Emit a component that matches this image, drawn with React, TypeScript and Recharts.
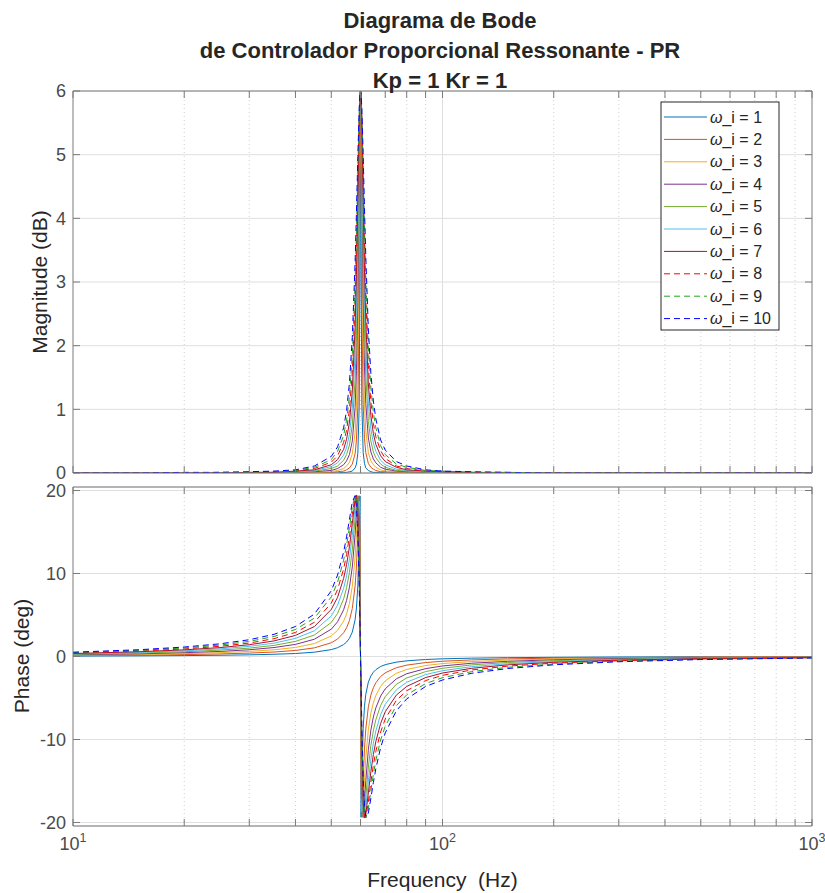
import { LineChart, Line, XAxis, YAxis, CartesianGrid, ReferenceLine } from "recharts";

// frequency grid (Hz), shared by all series
const freqs = [
  10, 15, 20, 25, 30, 35, 40, 45, 50, 52, 54, 55, 56, 57, 58, 58.5, 59, 59.5, 59.8, 60,
  60.2, 60.5, 61, 61.5, 62, 63, 64, 65, 66, 68, 70, 75, 80, 90, 100, 120, 150, 200, 300, 500, 1000,
];

// magnitude (dB), one array per omega_i
const magW1 = [0, 0, 0, 0, 0, 0, 0, 0, 0, 0, 0.01, 0.01, 0.02, 0.03, 0.08, 0.14, 0.31, 1.05, 3.35, 6.02, 3.36, 1.07, 0.32, 0.15, 0.08, 0.04, 0.02, 0.01, 0.01, 0.01, 0, 0, 0, 0, 0, 0, 0, 0, 0, 0, 0];
const magW2 = [0, 0, 0, 0, 0, 0, 0, 0, 0.01, 0.02, 0.03, 0.05, 0.08, 0.14, 0.3, 0.52, 1.04, 2.7, 4.98, 6.02, 4.99, 2.72, 1.07, 0.54, 0.32, 0.15, 0.09, 0.06, 0.04, 0.02, 0.02, 0.01, 0, 0, 0, 0, 0, 0, 0, 0, 0];
const magW3 = [0, 0, 0, 0, 0, 0, 0, 0.01, 0.02, 0.04, 0.07, 0.11, 0.17, 0.3, 0.63, 1.04, 1.9, 3.85, 5.5, 6.02, 5.51, 3.87, 1.94, 1.08, 0.67, 0.32, 0.19, 0.13, 0.09, 0.05, 0.03, 0.02, 0.01, 0, 0, 0, 0, 0, 0, 0, 0];
const magW4 = [0, 0, 0, 0, 0, 0, 0.01, 0.02, 0.04, 0.07, 0.13, 0.19, 0.29, 0.5, 1.03, 1.61, 2.68, 4.55, 5.72, 6.02, 5.72, 4.57, 2.73, 1.67, 1.09, 0.55, 0.33, 0.22, 0.16, 0.09, 0.06, 0.03, 0.02, 0.01, 0.01, 0, 0, 0, 0, 0, 0];
const magW5 = [0, 0, 0, 0, 0, 0.01, 0.01, 0.03, 0.07, 0.11, 0.2, 0.29, 0.44, 0.75, 1.46, 2.16, 3.33, 4.98, 5.82, 6.02, 5.82, 4.99, 3.37, 2.23, 1.53, 0.81, 0.5, 0.33, 0.24, 0.14, 0.09, 0.04, 0.03, 0.01, 0.01, 0, 0, 0, 0, 0, 0];
const magW6 = [0, 0, 0, 0, 0.01, 0.01, 0.02, 0.04, 0.1, 0.16, 0.28, 0.4, 0.61, 1.01, 1.88, 2.67, 3.84, 5.25, 5.88, 6.02, 5.88, 5.26, 3.88, 2.74, 1.96, 1.1, 0.69, 0.47, 0.34, 0.2, 0.13, 0.06, 0.04, 0.02, 0.01, 0.01, 0, 0, 0, 0, 0];
const magW7 = [0, 0, 0, 0, 0.01, 0.01, 0.03, 0.05, 0.13, 0.21, 0.37, 0.53, 0.8, 1.29, 2.28, 3.12, 4.23, 5.43, 5.92, 6.02, 5.92, 5.44, 4.27, 3.19, 2.38, 1.4, 0.9, 0.62, 0.45, 0.27, 0.18, 0.09, 0.05, 0.03, 0.02, 0.01, 0, 0, 0, 0, 0];
const magW8 = [0, 0, 0, 0.01, 0.01, 0.02, 0.03, 0.07, 0.17, 0.27, 0.48, 0.67, 1.0, 1.58, 2.66, 3.5, 4.54, 5.56, 5.94, 6.02, 5.94, 5.57, 4.57, 3.57, 2.75, 1.69, 1.11, 0.78, 0.57, 0.35, 0.23, 0.11, 0.07, 0.03, 0.02, 0.01, 0.01, 0, 0, 0, 0];
const magW9 = [0, 0, 0, 0.01, 0.01, 0.02, 0.04, 0.09, 0.21, 0.34, 0.59, 0.83, 1.21, 1.86, 3.0, 3.82, 4.78, 5.65, 5.96, 6.02, 5.96, 5.65, 4.81, 3.89, 3.09, 1.98, 1.34, 0.95, 0.71, 0.43, 0.29, 0.14, 0.09, 0.04, 0.03, 0.01, 0.01, 0, 0, 0, 0];
const magW10 = [0, 0, 0.01, 0.01, 0.02, 0.03, 0.05, 0.11, 0.26, 0.41, 0.71, 0.98, 1.42, 2.13, 3.3, 4.1, 4.97, 5.72, 5.97, 6.02, 5.97, 5.72, 5.0, 4.16, 3.4, 2.26, 1.56, 1.13, 0.85, 0.52, 0.36, 0.18, 0.11, 0.05, 0.03, 0.02, 0.01, 0, 0, 0, 0];

// phase (deg)
const phaseW1 = [0.05, 0.08, 0.11, 0.15, 0.2, 0.27, 0.36, 0.52, 0.83, 1.06, 1.44, 1.74, 2.19, 2.94, 4.42, 5.85, 8.55, 14.79, 19.35, 0, -19.34, -14.86, -8.68, -5.99, -4.56, -3.09, -2.34, -1.89, -1.59, -1.21, -0.98, -0.68, -0.52, -0.36, -0.28, -0.2, -0.14, -0.1, -0.06, -0.04, -0.02];
const phaseW2 = [0.1, 0.16, 0.23, 0.31, 0.41, 0.54, 0.73, 1.04, 1.65, 2.11, 2.86, 3.46, 4.34, 5.78, 8.48, 10.9, 14.75, 19.36, 14.72, 0, -14.69, -19.38, -14.9, -11.13, -8.74, -6.06, -4.63, -3.76, -3.16, -2.41, -1.96, -1.35, -1.04, -0.73, -0.57, -0.41, -0.29, -0.2, -0.13, -0.07, -0.04];
const phaseW3 = [0.16, 0.24, 0.34, 0.46, 0.61, 0.81, 1.09, 1.56, 2.48, 3.15, 4.26, 5.13, 6.41, 8.42, 11.94, 14.71, 18.1, 18.71, 10.91, 0, -10.88, -18.66, -18.21, -14.94, -12.25, -8.8, -6.82, -5.56, -4.7, -3.6, -2.93, -2.02, -1.56, -1.09, -0.85, -0.61, -0.43, -0.3, -0.19, -0.11, -0.05];
const phaseW4 = [0.21, 0.32, 0.46, 0.61, 0.81, 1.08, 1.46, 2.08, 3.29, 4.18, 5.63, 6.75, 8.35, 10.78, 14.66, 17.23, 19.36, 16.74, 8.53, 0, -8.5, -16.67, -19.39, -17.42, -14.98, -11.23, -8.86, -7.29, -6.19, -4.77, -3.89, -2.69, -2.08, -1.46, -1.14, -0.81, -0.58, -0.4, -0.25, -0.15, -0.07];
const phaseW5 = [0.26, 0.41, 0.57, 0.77, 1.01, 1.34, 1.82, 2.59, 4.1, 5.19, 6.94, 8.28, 10.14, 12.84, 16.67, 18.69, 19.36, 14.74, 6.96, 0, -6.93, -14.66, -19.33, -18.81, -16.95, -13.32, -10.72, -8.92, -7.62, -5.9, -4.83, -3.35, -2.59, -1.82, -1.42, -1.01, -0.72, -0.5, -0.32, -0.19, -0.09];
const phaseW6 = [0.31, 0.49, 0.68, 0.92, 1.22, 1.61, 2.18, 3.1, 4.89, 6.18, 8.21, 9.72, 11.77, 14.58, 18.05, 19.35, 18.73, 13.01, 5.86, 0, -5.84, -12.93, -18.64, -19.39, -18.26, -15.05, -12.39, -10.43, -8.98, -7.01, -5.75, -4.01, -3.1, -2.18, -1.71, -1.22, -0.87, -0.6, -0.38, -0.22, -0.11];
const phaseW7 = [0.36, 0.57, 0.8, 1.07, 1.42, 1.88, 2.54, 3.61, 5.67, 7.13, 9.41, 11.06, 13.22, 16.0, 18.87, 19.46, 17.8, 11.56, 5.06, 0, -5.04, -11.49, -17.68, -19.44, -19.03, -16.44, -13.86, -11.82, -10.25, -8.07, -6.65, -4.65, -3.61, -2.54, -1.99, -1.42, -1.01, -0.7, -0.44, -0.26, -0.13];
const phaseW8 = [0.42, 0.65, 0.91, 1.23, 1.62, 2.15, 2.9, 4.12, 6.43, 8.06, 10.54, 12.28, 14.49, 17.13, 19.34, 19.21, 16.78, 10.37, 4.44, 0, -4.43, -10.3, -16.64, -19.13, -19.4, -17.51, -15.12, -13.08, -11.44, -9.09, -7.53, -5.29, -4.12, -2.9, -2.27, -1.62, -1.16, -0.8, -0.51, -0.3, -0.15];
const phaseW9 = [0.47, 0.73, 1.03, 1.38, 1.82, 2.41, 3.26, 4.62, 7.18, 8.95, 11.6, 13.4, 15.59, 17.99, 19.47, 18.75, 15.75, 9.38, 3.96, 0, -3.95, -9.31, -15.6, -18.62, -19.46, -18.31, -16.19, -14.2, -12.53, -10.06, -8.38, -5.92, -4.62, -3.26, -2.55, -1.82, -1.3, -0.9, -0.57, -0.33, -0.16];
const phaseW10 = [0.52, 0.81, 1.14, 1.53, 2.02, 2.67, 3.61, 5.11, 7.91, 9.81, 12.58, 14.41, 16.52, 18.62, 19.38, 18.15, 14.78, 8.55, 3.57, 0, -3.56, -8.48, -14.62, -17.99, -19.31, -18.86, -17.07, -15.19, -13.53, -10.98, -9.2, -6.54, -5.11, -3.61, -2.83, -2.02, -1.45, -1.0, -0.63, -0.37, -0.18];

const wiValues = [1, 2, 3, 4, 5, 6, 7, 8, 9, 10];
const seriesColors = ["#0072BD", "#D95319", "#EDB120", "#7E2F8E", "#77AC30", "#4DBEEE", "#A2142F", "#FF0000", "#1FA51F", "#0000FF"];

const xTicks = [10, 20, 30, 40, 50, 60, 70, 80, 90, 100, 200, 300, 400, 500, 600, 700, 800, 900, 1000];
const decadeExp: Record<number, string> = { 10: "1", 100: "2", 1000: "3" };
const minorGrid = [20, 30, 40, 50, 60, 70, 80, 90, 200, 300, 400, 500, 600, 700, 800, 900];
const magTicks = [0, 1, 2, 3, 4, 5, 6];
const phaseTicks = [-20, -10, 0, 10, 20];

const FONT = "'Liberation Sans', Arial, Helvetica, sans-serif";
const AXIS = "#7a7a7a";
const TICK_TEXT = "#4a4a4a";
const LABEL = "#262626";
const GRID = "#dfdfdf";
const MINOR = "#cfcfcf";

const magSeries = [magW1, magW2, magW3, magW4, magW5, magW6, magW7, magW8, magW9, magW10];
const phaseSeries = [phaseW1, phaseW2, phaseW3, phaseW4, phaseW5, phaseW6, phaseW7, phaseW8, phaseW9, phaseW10];

function toRows(series: number[][]) {
  return freqs.map((f, i) => {
    const row: Record<string, number> = { f };
    series.forEach((s, j) => {
      row[`w${j + 1}`] = s[i];
    });
    return row;
  });
}

const magRows = toRows(magSeries);
const phaseRows = toRows(phaseSeries);

const tickStyle = { fill: TICK_TEXT, fontSize: 18, fontFamily: FONT };
const noLabel = () => "";

// "10" with a raised exponent, only on the decades
function DecadeTick(props: any) {
  const { x, y, payload } = props;
  const exp = decadeExp[payload.value];
  if (!exp) return null;
  return (
    <text x={x} y={y} dy={14} textAnchor="middle" fill={TICK_TEXT} fontSize={18} fontFamily={FONT}>
      10
      <tspan dy={-8} fontSize={12.5}>
        {exp}
      </tspan>
    </text>
  );
}

// axes need a size > 0 or recharts skips them; negative tickSize points the marks inward
function Plot({ rows, top, bottom, domain, ticks, labels }: any) {
  return (
    <LineChart width={825} height={893} data={rows} margin={{ top: top - 1, right: 12, bottom: 893 - bottom - 1, left: 0 }}>
      <CartesianGrid vertical={false} stroke={GRID} />
      {minorGrid.map((f) => (
        <ReferenceLine key={f} x={f} stroke={MINOR} strokeDasharray="1 3" />
      ))}
      <ReferenceLine x={100} stroke={GRID} />
      <XAxis
        dataKey="f"
        type="number"
        scale="log"
        domain={[10, 1000]}
        allowDataOverflow
        ticks={xTicks}
        interval={0}
        height={1}
        tickSize={-7}
        tickMargin={17}
        tickLine={{ stroke: AXIS }}
        axisLine={{ stroke: AXIS }}
        tick={labels ? <DecadeTick /> : tickStyle}
        tickFormatter={labels ? undefined : noLabel}
      />
      <XAxis
        xAxisId="top"
        orientation="top"
        dataKey="f"
        type="number"
        scale="log"
        domain={[10, 1000]}
        allowDataOverflow
        ticks={xTicks}
        interval={0}
        height={1}
        tickSize={-7}
        tickLine={{ stroke: AXIS }}
        axisLine={{ stroke: AXIS }}
        tick={tickStyle}
        tickFormatter={noLabel}
      />
      <YAxis
        type="number"
        domain={domain}
        allowDataOverflow
        ticks={ticks}
        interval={0}
        width={73}
        tickSize={-7}
        tickMargin={14}
        tickLine={{ stroke: AXIS }}
        axisLine={{ stroke: AXIS }}
        tick={tickStyle}
      />
      <YAxis
        yAxisId="right"
        orientation="right"
        type="number"
        domain={domain}
        allowDataOverflow
        ticks={ticks}
        interval={0}
        width={1}
        tickSize={-7}
        tickLine={{ stroke: AXIS }}
        axisLine={{ stroke: AXIS }}
        tick={tickStyle}
        tickFormatter={noLabel}
      />
      {seriesColors.map((c, j) => (
        <Line
          key={j}
          dataKey={`w${j + 1}`}
          type="linear"
          stroke={c}
          strokeWidth={1}
          strokeDasharray={j >= 7 ? "6 4" : undefined}
          dot={false}
          activeDot={false}
          isAnimationActive={false}
        />
      ))}
    </LineChart>
  );
}

export default function App() {
  const legendTop = 102;
  const rowH = 22.4;
  return (
    <div style={{ position: "absolute", left: 0, top: 0, width: 825, height: 893, background: "#fff", fontFamily: FONT }}>
      <div style={{ position: "absolute", left: 0, top: 0 }}>
        <Plot rows={magRows} top={91} bottom={473} domain={[0, 6]} ticks={magTicks} labels={false} />
      </div>
      <div style={{ position: "absolute", left: 0, top: 0 }}>
        <Plot rows={phaseRows} top={487} bottom={826} domain={[-20.42, 20.42]} ticks={phaseTicks} labels={true} />
      </div>
      <svg width={825} height={893} style={{ position: "absolute", left: 0, top: 0, pointerEvents: "none" }} fontFamily={FONT}>
        <g fill={LABEL} fontWeight="bold" fontSize={22} textAnchor="middle">
          <text x={440} y={28}>Diagrama de Bode</text>
          <text x={440} y={58}>de Controlador Proporcional Ressonante - PR</text>
          <text x={440} y={88}>Kp = 1 Kr = 1</text>
        </g>
        <text transform="translate(47,282) rotate(-90)" textAnchor="middle" fontSize={21} fill={LABEL}>
          Magnitude (dB)
        </text>
        <text transform="translate(29,656) rotate(-90)" textAnchor="middle" fontSize={21} fill={LABEL}>
          Phase (deg)
        </text>
        <text x={442.5} y={887} textAnchor="middle" fontSize={21} fill={LABEL}>
          {"Frequency \u00a0(Hz)"}
        </text>
        <rect x={661} y={legendTop} width={118} height={228} fill="#fff" stroke="#262626" strokeWidth={1} />
        {wiValues.map((w, j) => {
          const y = legendTop + 15 + j * rowH;
          return (
            <g key={w}>
              <line
                x1={664}
                x2={707}
                y1={y}
                y2={y}
                stroke={seriesColors[j]}
                strokeWidth={1}
                strokeDasharray={j >= 7 ? "6 4" : undefined}
              />
              <text x={710} y={y} dy="0.35em" fontSize={16} fill={LABEL}>
                <tspan fontStyle="italic">ω</tspan>_i = {w}
              </text>
            </g>
          );
        })}
      </svg>
    </div>
  );
}
